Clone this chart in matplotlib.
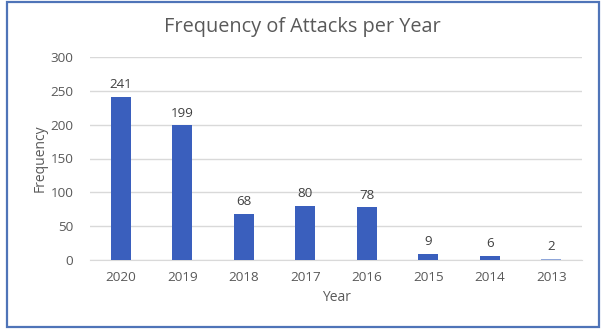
import matplotlib
matplotlib.use("Agg")
import matplotlib.pyplot as plt
from matplotlib.patches import Rectangle

years = ["2020", "2019", "2018", "2017", "2016", "2015", "2014", "2013"]
attacks = [241, 199, 68, 80, 78, 9, 6, 2]
yticks = [0, 50, 100, 150, 200, 250, 300]

plt.rcParams['font.family'] = ['Open Sans', 'DejaVu Sans']
W, H = 605, 332
fig = plt.figure(figsize=(W/100, H/100), dpi=100)
fig.patch.set_facecolor('white')

# border
fig.add_artist(Rectangle((7/W, 1 - 327/H), (599-7)/W, (327-2)/H,
                         transform=fig.transFigure, fill=False,
                         edgecolor='#4F74B8', linewidth=1.6))

ax = fig.add_axes([90/W, 1 - 260/H, (582-90)/W, (260-57)/H])
x = range(len(years))
bar_color = '#3A5FBD'
colors = [bar_color]*7 + ['#8FA6D9']
ax.bar(x, attacks, width=0.32, color=colors, zorder=3)
for i, v in enumerate(attacks):
    ax.annotate(str(v), (i, v), xytext=(0, 4), textcoords='offset points',
                ha='center', va='bottom', fontsize=9.6, color='#404040')

ax.set_xlim(-0.5, len(years) - 0.5)
ax.set_ylim(0, 300)
ax.set_yticks(yticks)
ax.set_xticks(list(x))
ax.set_xticklabels(years)
ax.yaxis.grid(True, color='#D9D9D9', linewidth=1, zorder=0)
for s in ['top', 'right', 'left']:
    ax.spines[s].set_visible(False)
ax.spines['bottom'].set_color('#D9D9D9')
ax.tick_params(axis='both', length=0, labelsize=9.7, colors='#595959')
ax.tick_params(axis='x', pad=8)
ax.tick_params(axis='y', pad=12)
ax.set_xlabel('Year', fontsize=10, color='#595959', labelpad=4)
ax.set_ylabel('Frequency', fontsize=10, color='#595959', labelpad=2)

fig.text(302/W, 1 - 27/H, 'Frequency of Attacks per Year', ha='center', va='center',
         fontsize=14.3, color='#595959')

fig.savefig('out.png', dpi=100, facecolor='white')
